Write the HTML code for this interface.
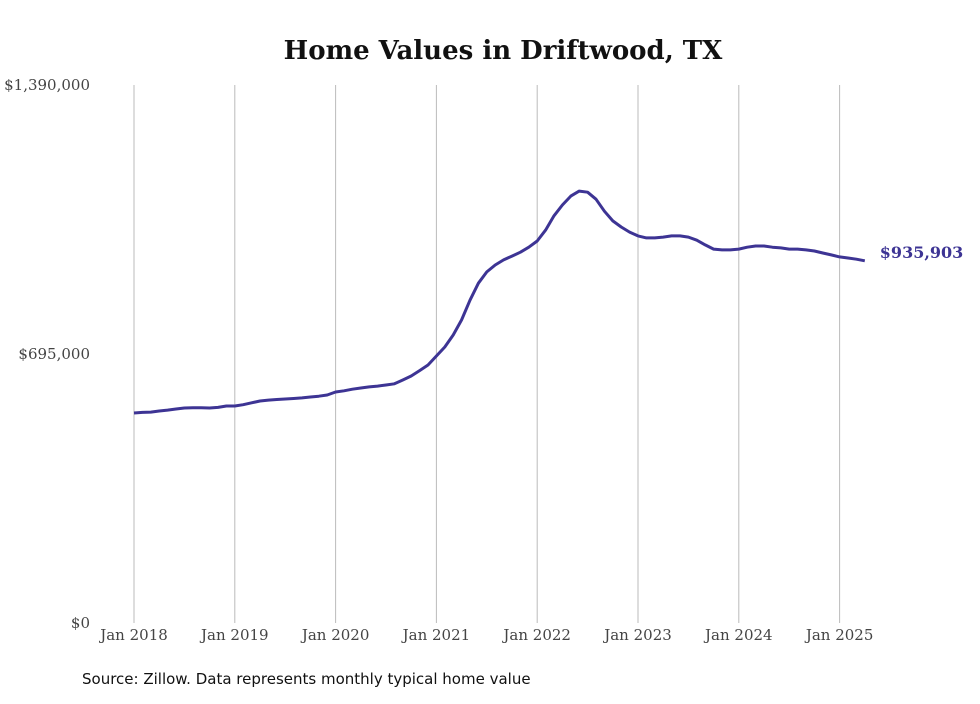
<!DOCTYPE html>
<html><head><meta charset="utf-8">
<style>
body{margin:0;background:#fff;width:980px;height:699px;overflow:hidden}
svg text{font-family:"DejaVu Serif",serif}
</style></head><body>
<svg id="chart" width="980" height="699">
<text x="503" y="59" text-anchor="middle" font-size="26" font-weight="bold" fill="#111">Home Values in Driftwood, TX</text>
<g id="grid"></g><g id="yaxis"></g><g id="xaxis"></g>
<path id="line" fill="none" stroke="#3d3494" stroke-width="3" stroke-linejoin="round"/>
<text id="endlabel" font-size="16" font-weight="bold" fill="#3d3494"></text>
<text x="82" y="684" font-size="15" fill="#111" style="font-family:'DejaVu Sans',sans-serif">Source: Zillow. Data represents monthly typical home value</text>
</svg>
<script>
const yearLabels=["Jan 2018","Jan 2019","Jan 2020","Jan 2021","Jan 2022","Jan 2023","Jan 2024","Jan 2025"];
const yTicks=[0,695000,1390000];
const yTickLabels=["$0","$695,000","$1,390,000"];
const values=[
542.6,544,545,547.7,550,553,555.5,556,556,555.5,557,560.6,
560.6,564,569,573.5,576,577.5,578.7,580,581.5,583.9,586,589,
596.8,600,604,607.1,610,612,614.9,618,627.8,638.2,652,666.6,
689.9,713,744,783,834,878,907,925,938,948,958,971,
987,1015,1052,1080,1103,1116,1113,1095,1064,1039,1023,1010,
1000,995,995,997,1000,1000,997,989,977,966,964,964,
966,971,974,974,971,969,966,966,964,961,956,951,
946,943,940,935.903];
const ns="http://www.w3.org/2000/svg";
const x0=134,perYear=100.8,y0=623,yTop=85,yMax=1390000;
const X=i=>x0+i*perYear/12;
const Y=v=>y0-(v/yMax)*(y0-yTop);
const grid=document.getElementById('grid'),xa=document.getElementById('xaxis'),ya=document.getElementById('yaxis');
yearLabels.forEach((l,i)=>{
 const x=x0+i*perYear;
 const ln=document.createElementNS(ns,'line');
 
 
 ln.setAttribute('x1',x);ln.setAttribute('x2',x);ln.setAttribute('y1',yTop);ln.setAttribute('y2',y0);
 ln.setAttribute('stroke','#bbb');ln.setAttribute('stroke-width','1');grid.appendChild(ln);
 const t=document.createElementNS(ns,'text');
 
 
 t.setAttribute('x',x);t.setAttribute('y',640);t.setAttribute('text-anchor','middle');
 t.setAttribute('font-size','15');t.setAttribute('fill','#444');t.textContent=l;xa.appendChild(t);
});
yTicks.forEach((v,i)=>{
 const t=document.createElementNS(ns,'text');
 
 
 t.setAttribute('x',90);t.setAttribute('y',Y(v)+5);t.setAttribute('text-anchor','end');
 t.setAttribute('font-size','15');t.setAttribute('fill','#444');t.textContent=yTickLabels[i];ya.appendChild(t);
});
document.getElementById('line').setAttribute('d',values.map((v,i)=>(i?'L':'M')+X(i).toFixed(1)+','+Y(v*1000).toFixed(1)).join(''));
const last=values.length-1,el=document.getElementById('endlabel');
el.setAttribute('x',X(last)+15);el.setAttribute('y',Y(values[last]*1000)-3);
el.textContent='$'+Math.round(values[last]*1000).toLocaleString('en-US');
</script>
</body></html>
